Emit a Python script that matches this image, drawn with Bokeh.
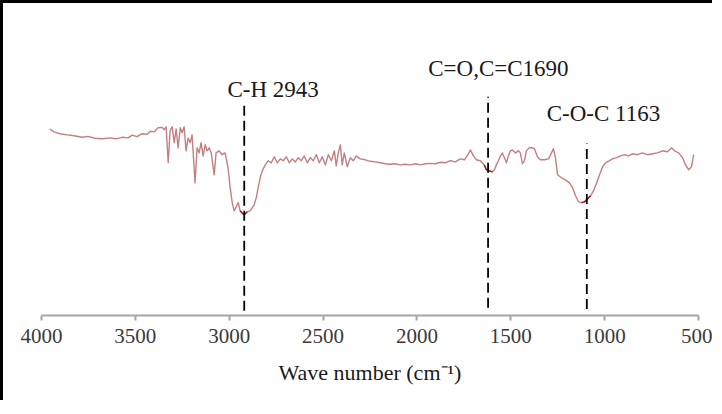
from bokeh.plotting import figure
from bokeh.models import Range1d, FixedTicker, ColumnDataSource
from bokeh.core.properties import value
from bokeh.embed import file_html
from bokeh.resources import INLINE

# FTIR spectrum (wavenumber in cm^-1, transmittance in arbitrary %)
wavenumber = [3955, 3933, 3901, 3864, 3827, 3784, 3752, 3715, 3677, 3635, 3603, 3571, 3539, 3517, 3491,
              3464, 3437, 3421, 3400, 3379, 3357, 3347, 3336, 3325, 3315, 3304, 3293, 3283, 3272, 3261,
              3251, 3240, 3230, 3219, 3208, 3198, 3182, 3171, 3160, 3150, 3139, 3128, 3118, 3107, 3096,
              3080, 3070, 3054, 3038, 3022, 3006, 2995, 2984, 2974, 2963, 2952, 2942, 2931, 2920, 2904,
              2888, 2878, 2867, 2856, 2846, 2835, 2824, 2808, 2792, 2776, 2760, 2744, 2728, 2712, 2696,
              2680, 2664, 2648, 2632, 2616, 2600, 2584, 2568, 2552, 2536, 2520, 2504, 2488, 2472, 2456,
              2440, 2430, 2419, 2408, 2398, 2387, 2371, 2355, 2339, 2323, 2302, 2275, 2248, 2222, 2195,
              2168, 2142, 2115, 2088, 2062, 2035, 2008, 1982, 1955, 1928, 1902, 1875, 1849, 1822, 1795,
              1769, 1747, 1726, 1715, 1699, 1683, 1662, 1641, 1630, 1614, 1598, 1587, 1577, 1566, 1555,
              1545, 1534, 1523, 1513, 1502, 1491, 1475, 1459, 1449, 1438, 1427, 1417, 1401, 1385, 1374,
              1358, 1342, 1321, 1299, 1283, 1273, 1262, 1251, 1230, 1209, 1187, 1171, 1155, 1139, 1123,
              1107, 1091, 1075, 1059, 1043, 1027, 1011, 995, 974, 958, 937, 915, 894, 873, 851,
              825, 798, 771, 745, 718, 692, 665, 643, 628, 606, 585, 569, 553, 537, 526]
transmittance = [62.1, 61.2, 60.6, 60.2, 59.9, 59.4, 59.7, 59.1, 58.9, 59.2, 58.9, 59.4, 59.2, 60.1, 59.6,
                 60.6, 60.4, 61.4, 61.2, 62.6, 62.7, 61.9, 62.9, 50.9, 61.6, 62.9, 57.6, 62.2, 55.9, 62.6,
                 60.9, 62.9, 54.9, 59.2, 57.6, 60.2, 44.2, 55.9, 54.2, 57.6, 53.2, 56.9, 54.9, 55.9, 54.2,
                 46.9, 54.2, 54.9, 53.6, 54.2, 49.2, 42.6, 37.6, 34.9, 36.2, 37.6, 34.9, 34.2, 33.6, 34.6,
                 34.9, 35.9, 36.9, 39.2, 42.6, 45.9, 48.2, 50.2, 51.6, 50.9, 52.9, 50.9, 52.2, 51.6, 52.9,
                 50.9, 52.2, 51.2, 52.6, 51.6, 53.2, 50.9, 52.6, 51.6, 53.6, 50.9, 52.9, 50.2, 53.6, 51.6,
                 54.9, 49.9, 54.2, 56.9, 50.2, 54.2, 49.6, 52.6, 51.6, 53.2, 52.2, 51.9, 51.4, 51.2, 50.9,
                 50.6, 50.4, 50.6, 50.2, 50.4, 50.2, 50.6, 50.2, 50.6, 50.7, 50.6, 51.1, 50.9, 51.6, 51.2,
                 52.2, 51.9, 53.9, 55.2, 53.2, 51.9, 51.6, 50.2, 48.6, 48.2, 47.9, 48.6, 50.2, 51.6, 53.2,
                 54.2, 52.6, 50.9, 53.2, 54.9, 55.2, 54.2, 54.9, 54.2, 50.6, 51.6, 54.9, 55.9, 55.9, 55.6,
                 52.9, 51.9, 51.9, 52.2, 54.2, 55.6, 52.6, 46.9, 45.9, 45.2, 44.2, 42.6, 39.9, 37.9, 37.6,
                 37.9, 38.9, 39.9, 41.6, 44.2, 46.9, 49.6, 50.9, 51.6, 52.2, 52.6, 53.2, 53.6, 53.2, 53.9,
                 53.6, 54.2, 53.6, 53.9, 54.2, 54.9, 54.6, 55.9, 54.9, 54.2, 52.6, 50.2, 48.6, 49.6, 53.6]

peak_wavenumber = [2920, 1621, 1095]
peak_top = [69.9, 72.9, 57.3]
peak_bottom = [1.6, 2.6, 2.2]
peak_labels = ["C-H 2943", "C=O,C=C1690", "C-O-C 1163"]
label_x = [2766, 1566, 1006]
label_y = [75.3, 82.3, 67.5]
x_ticks = [4000, 3500, 3000, 2500, 2000, 1500, 1000, 500]

p = figure(width=712, height=400,
           x_range=Range1d(4000, 500), y_range=Range1d(0, 103.67),
           output_backend="svg", toolbar_location=None, y_axis_location=None,
           min_border_left=41, min_border_right=14, min_border_top=4, min_border_bottom=85)
p.border_fill_color = None
p.background_fill_color = None
p.outline_line_color = None
p.grid.visible = False
p.styles = {"box-shadow": "inset 3px 3px 0 0 #000000"}

# spectrum
p.line(wavenumber, transmittance, line_color="#c47f80", line_width=1.4, line_join="round")

# darker traces at the marked minima
hx, hy = [], []
for pk in peak_wavenumber:
    seg = [(w, t) for w, t in zip(wavenumber, transmittance) if abs(w - pk) <= 30]
    hx.append([s[0] for s in seg])
    hy.append([s[1] for s in seg])
p.multi_line(hx, hy, line_color="#8b1a1a", line_width=1.4)

# dashed peak markers
p.segment(x0=peak_wavenumber, y0=peak_bottom, x1=peak_wavenumber, y1=peak_top,
          line_color="#000000", line_width=1.8, line_dash="10 5")

src = ColumnDataSource(dict(x=label_x, y=label_y, t=peak_labels))
p.text(x="x", y="y", text="t", source=src, text_font=value("Liberation Serif"),
       text_font_size="23px", text_align="center", text_baseline="alphabetic",
       text_color="#1a1a1a")

ax = p.xaxis[0]
ax.ticker = FixedTicker(ticks=x_ticks, minor_ticks=[])
ax.axis_line_color = "#a6a6a6"
ax.axis_line_width = 2
ax.major_tick_line_color = "#a6a6a6"
ax.major_tick_line_width = 2
ax.major_tick_out = 5
ax.major_tick_in = 0
ax.minor_tick_out = 0
ax.minor_tick_in = 0
ax.major_label_text_font = "Liberation Serif"
ax.major_label_text_font_size = "21px"
ax.major_label_text_color = "#3a3a3a"
ax.major_label_standoff = 8
ax.axis_label = "Wave number (cm\u207b\u00b9)"
ax.axis_label_text_font = "Liberation Serif"
ax.axis_label_text_font_size = "22px"
ax.axis_label_text_font_style = "normal"
ax.axis_label_text_color = "#1a1a1a"
ax.axis_label_standoff = 14

open("out.html", "w").write(file_html(p, INLINE))
